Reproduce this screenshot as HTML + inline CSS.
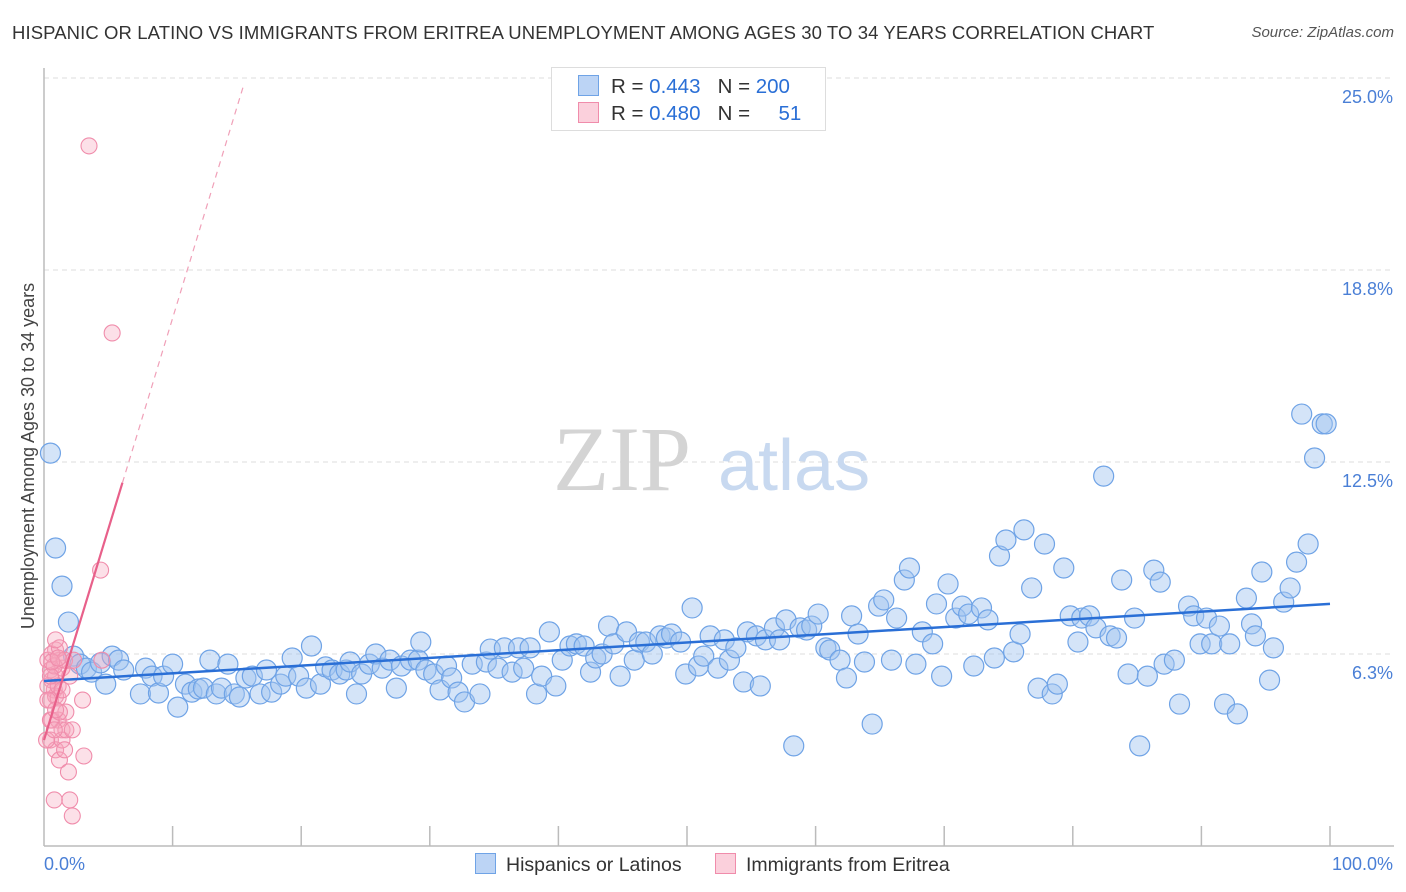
<!DOCTYPE html>
<html><head><meta charset="utf-8">
<style>
body{margin:0;background:#fff;font-family:"Liberation Sans",sans-serif;}
#wrap{position:relative;width:1406px;height:892px;overflow:hidden;}
.title{position:absolute;left:12px;top:22px;font-size:18.5px;color:#333;letter-spacing:0.1px}
.source{position:absolute;right:12px;top:24px;font-size:15px;color:#555;font-style:italic}
</style></head><body>
<div id="wrap">
<div class="title">HISPANIC OR LATINO VS IMMIGRANTS FROM ERITREA UNEMPLOYMENT AMONG AGES 30 TO 34 YEARS CORRELATION CHART</div>
<div class="source">Source: ZipAtlas.com</div>
<svg id="svg" width="1406" height="892" style="position:absolute;left:0;top:0"></svg>
</div>
<script>
const blueX=[0.5,0.9,1.4,1.9,2.3,2.8,3.3,3.7,4.4,4.8,5.3,5.8,6.2,7.5,7.9,8.4,8.9,9.3,10.0,10.4,11.0,11.5,12.0,12.4,12.9,13.4,13.8,14.3,14.8,15.2,15.7,16.2,16.8,17.3,17.7,18.4,18.8,19.3,19.8,20.4,20.8,21.5,21.9,22.4,23.0,23.5,23.8,24.3,24.7,25.3,25.8,26.3,26.9,27.4,27.8,28.5,29.1,29.3,29.7,30.3,30.8,31.3,31.7,32.2,32.7,33.3,33.9,34.4,34.7,35.3,35.8,36.4,36.9,37.3,37.8,38.3,38.7,39.3,39.8,40.3,40.9,41.4,42.0,42.5,42.9,43.4,43.9,44.3,44.8,45.3,45.9,46.3,46.8,47.3,47.9,48.4,48.8,49.5,49.9,50.4,50.9,51.3,51.8,52.4,52.9,53.3,53.8,54.4,54.7,55.4,55.7,56.1,56.8,57.2,57.7,58.3,58.8,59.3,59.7,60.2,60.8,61.1,61.9,62.4,62.8,63.3,63.8,64.4,64.9,65.3,65.9,66.3,66.9,67.3,67.8,68.3,69.1,69.4,69.8,70.3,70.9,71.4,71.9,72.3,72.9,73.4,73.9,74.3,74.8,75.4,75.9,76.2,76.8,77.3,77.8,78.4,78.8,79.3,79.8,80.4,80.7,81.3,81.8,82.4,82.9,83.4,83.8,84.3,84.8,85.2,85.8,86.3,86.8,87.1,87.9,88.3,89.0,89.4,89.9,90.4,90.8,91.4,91.8,92.2,92.8,93.5,93.9,94.2,94.7,95.3,95.6,96.4,96.9,97.4,97.8,98.3,98.8,99.4,99.7];
const blueY=[12.79,9.70,8.46,7.29,6.18,5.92,5.79,5.66,5.96,5.27,6.18,6.05,5.73,4.95,5.79,5.53,4.98,5.53,5.92,4.52,5.27,5.01,5.11,5.14,6.05,4.95,5.14,5.92,4.95,4.85,5.47,5.53,4.95,5.73,5.01,5.27,5.53,6.12,5.53,5.14,6.51,5.27,5.83,5.73,5.60,5.73,5.99,4.95,5.60,5.92,6.25,5.79,6.05,5.14,5.86,6.05,6.05,6.64,5.73,5.60,5.08,5.86,5.47,5.01,4.69,5.92,4.95,5.99,6.41,5.79,6.45,5.66,6.45,5.79,6.45,4.95,5.53,6.97,5.21,6.05,6.51,6.58,6.51,5.66,6.12,6.25,7.16,6.58,5.53,6.97,6.05,6.64,6.64,6.25,6.84,6.77,6.90,6.64,5.60,7.75,5.86,6.18,6.84,5.79,6.71,6.05,6.45,5.34,6.97,6.84,5.21,6.71,7.10,6.71,7.36,3.26,7.10,7.03,7.16,7.55,6.45,6.38,6.05,5.47,7.49,6.90,5.99,3.97,7.81,8.01,6.05,7.42,8.66,9.05,5.92,6.97,6.58,7.88,5.53,8.53,7.42,7.81,7.55,5.86,7.75,7.36,6.12,9.44,9.96,6.32,6.90,10.29,8.40,5.14,9.83,4.95,5.27,9.05,7.49,6.64,7.42,7.49,7.10,12.04,6.84,6.77,8.66,5.60,7.42,3.26,5.53,8.98,8.59,5.92,6.05,4.62,7.81,7.49,6.58,7.42,6.58,7.16,4.62,6.58,4.30,8.07,7.23,6.84,8.92,5.40,6.45,7.94,8.40,9.24,14.06,9.83,12.63,13.74,13.74];
const pinkX=[0.3,0.5,0.6,0.8,0.5,0.9,1.2,0.9,0.6,1.1,1.4,0.5,0.9,1.4,1.7,2.2,1.2,1.9,2.0,0.8,2.2,0.9,0.3,0.5,0.2,1.1,1.4,0.8,0.6,1.2,1.6,0.9,3.1,3.0,4.4,5.3,3.5,4.5,2.3,1.1,0.5,1.7,0.8,1.6,1.2,0.3,0.9,1.4,0.6,2.0,1.1];
const pinkY=[6.05,5.73,5.40,5.08,4.75,6.38,6.05,5.53,4.10,4.10,3.78,3.45,3.13,3.45,3.78,3.78,2.80,2.41,1.50,1.50,0.98,4.88,5.21,4.10,3.45,4.82,5.79,5.86,6.25,6.45,6.05,6.71,2.93,4.75,8.98,16.70,22.79,6.05,6.05,5.21,5.53,4.36,3.78,3.13,4.36,4.75,4.43,5.08,5.99,5.53,6.12];
const yTicks=[6.25,12.5,18.75,25.0];
const yTickLabels=["6.3%","12.5%","18.8%","25.0%"];
const blueTrend=[5.37,7.88];
const pinkTrend=[3.45,1.373];

const NS="http://www.w3.org/2000/svg";
const svg=document.getElementById('svg');
const X=v=>44+v*12.86;
const Y=v=>846-v*30.72;
function mk(t,a,p){const e=document.createElementNS(NS,t);for(const k in a)e.setAttribute(k,a[k]);(p||svg).appendChild(e);return e;}

yTicks.forEach((t,i)=>{
  const gy=Y(t);
  const g=mk('line',{x1:44,x2:1394,y1:gy,y2:gy,stroke:'#ddd','stroke-dasharray':'5,4','stroke-width':1});
  
  
  const tx=mk('text',{x:1393,y:gy+25,'text-anchor':'end','font-size':18,fill:'#4a7fd6','font-family':'Liberation Sans'});
  tx.textContent=yTickLabels[i];
  
  
});
const ya=mk('line',{x1:44,x2:44,y1:68,y2:846,stroke:'#bbb','stroke-width':1.5});


const xa=mk('line',{x1:44,x2:1394,y1:846,y2:846,stroke:'#bbb','stroke-width':1.5});


for(let i=1;i<=10;i++){
  const tk=mk('line',{x1:X(i*10),x2:X(i*10),y1:826,y2:846,stroke:'#bbb','stroke-width':1.5});
  
  
}
const wm=mk('text',{x:553,y:490,'font-size':92,fill:'#d4d4d4','font-family':'Liberation Serif'});
wm.textContent='ZIP';


const wm2=mk('text',{x:718,y:490,'font-size':72,fill:'#c8d9f0','font-family':'Liberation Sans'});
wm2.textContent='atlas';



blueX.forEach((v,i)=>{
  const c=mk('circle',{cx:X(v),cy:Y(blueY[i]),r:10,fill:'rgba(160,196,240,0.45)',stroke:'#6fa3e6','stroke-width':1.2});
  
  
});
pinkX.forEach((v,i)=>{
  const c=mk('circle',{cx:X(v),cy:Y(pinkY[i]),r:8,fill:'rgba(245,165,190,0.35)',stroke:'#f08cab','stroke-width':1.1});
  
  
});
const bl=mk('line',{x1:X(0),y1:Y(blueTrend[0]),x2:X(100),y2:Y(blueTrend[1]),stroke:'#2a6fd6','stroke-width':2.5});


const xEnd=6.1, xDash=15.5;
const pl=mk('line',{x1:X(0),y1:Y(pinkTrend[0]),x2:X(xEnd),y2:Y(pinkTrend[0]+pinkTrend[1]*xEnd),stroke:'#e8608a','stroke-width':2.2});


const pd=mk('line',{x1:X(xEnd),y1:Y(pinkTrend[0]+pinkTrend[1]*xEnd),x2:X(xDash),y2:Y(pinkTrend[0]+pinkTrend[1]*xDash),stroke:'#f0a0b8','stroke-width':1.2,'stroke-dasharray':'6,5'});



const yl=mk('text',{x:0,y:0,transform:'translate(34,456) rotate(-90)','text-anchor':'middle','font-size':18,fill:'#444','font-family':'Liberation Sans'});
yl.textContent='Unemployment Among Ages 30 to 34 years';


const x0=mk('text',{x:44,y:870,'font-size':18,fill:'#4a7fd6','font-family':'Liberation Sans'});
x0.textContent='0.0%';


const x1=mk('text',{x:1393,y:870,'text-anchor':'end','font-size':18,fill:'#4a7fd6','font-family':'Liberation Sans'});
x1.textContent='100.0%';


</script>
<div style="position:absolute;left:551px;top:67px;width:273px;height:62px;border:1px solid #ddd;background:#fff;font-size:20.5px;color:#333">
  <div style="position:absolute;left:26px;top:7px;white-space:pre"><span style="display:inline-block;width:19px;height:19px;background:#bcd4f5;border:1px solid #6fa3e6;vertical-align:-3px;margin-right:12px"></span>R = <span style="color:#2a6fd6">0.443</span>   N = <span style="color:#2a6fd6">200</span></div>
  <div style="position:absolute;left:26px;top:34px;white-space:pre"><span style="display:inline-block;width:19px;height:19px;background:#fbd0dc;border:1px solid #f08cab;vertical-align:-3px;margin-right:12px"></span>R = <span style="color:#2a6fd6">0.480</span>   N =     <span style="color:#2a6fd6">51</span></div>
</div>
<div style="position:absolute;left:475px;top:853px;font-size:19.5px;color:#333;white-space:nowrap">
  <span><span style="display:inline-block;width:19px;height:19px;background:#bcd4f5;border:1px solid #6fa3e6;vertical-align:-3px;margin-right:10px"></span>Hispanics or Latinos</span>
  <span style="margin-left:28px"><span style="display:inline-block;width:19px;height:19px;background:#fbd0dc;border:1px solid #f08cab;vertical-align:-3px;margin-right:10px"></span>Immigrants from Eritrea</span>
</div>
</body></html>
